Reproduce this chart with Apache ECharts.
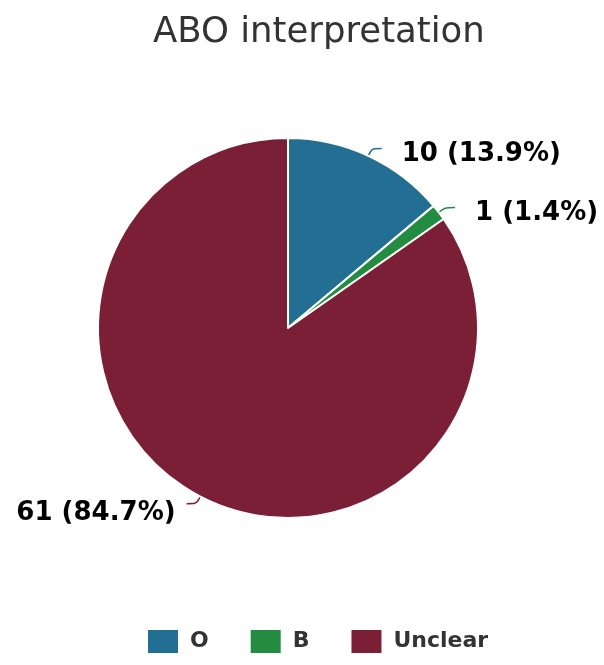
<!DOCTYPE html>
<html>
<head>
<meta charset="utf-8">
<script src="https://cdn.jsdelivr.net/npm/echarts@6/dist/echarts.min.js"></script>
<style>
  html, body { margin: 0; padding: 0; background: #fff; }
  #chart { width: 604px; height: 665px; }
</style>
</head>
<body>
<div id="chart"></div>
<script>
// ABO blood group interpretation counts
const categories = ['O', 'B', 'Unclear'];
const counts = [10, 1, 61];
const colors = ['#236f93', '#238c40', '#7a1f35'];

const chart = echarts.init(document.getElementById('chart'), null, { renderer: 'canvas' });

chart.setOption({
  backgroundColor: '#ffffff',
  animation: false,
  title: {
    text: 'ABO interpretation',
    left: 148,
    top: 10,
    textStyle: {
      fontFamily: 'DejaVu Sans',
      fontSize: 35.5,
      fontWeight: 'normal',
      color: '#333333'
    }
  },
  legend: {
    top: 623,
    left: 141,
    itemWidth: 32,
    itemHeight: 25,
    itemGap: 40,
    icon: 'rect',
    data: categories,
    textStyle: {
      fontFamily: 'DejaVu Sans',
      fontSize: 22,
      fontWeight: 'bold',
      color: '#333333',
      padding: [0, 0, 0, 6]
    }
  },
  series: [{
    type: 'pie',
    center: [288, 328],
    radius: 190,
    startAngle: 90,
    clockwise: true,
    percentPrecision: 1,
    itemStyle: { borderColor: '#ffffff', borderWidth: 2 },
    label: {
      formatter: '{c} ({d}%)',
      fontFamily: 'DejaVu Sans',
      fontSize: 26,
      fontWeight: 'bold',
      color: '#000000',
      overflow: 'none',
      distanceToLabelLine: 20
    },
    // labels sit slightly below the end of their leader lines
    labelLayout: (p) => ({ dy: p.dataIndex === 2 ? 10 : 6 }),
    labelLine: { length: 8, length2: 10, smooth: true, lineStyle: { width: 1.5 } },
    data: categories.map((name, i) => ({
      name,
      value: counts[i],
      itemStyle: { color: colors[i] },
      label: name === 'Unclear' ? { distanceToLabelLine: 11 } : undefined
    }))
  }]
});
</script>
</body>
</html>
